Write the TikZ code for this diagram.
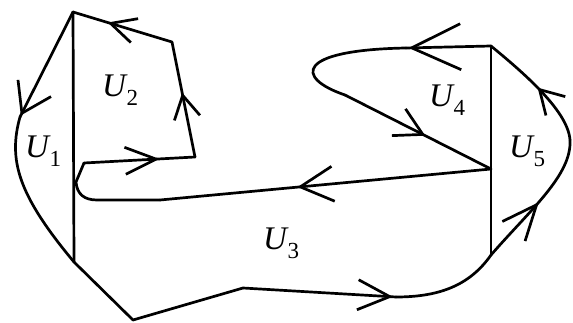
\documentclass[tikz,border=0pt]{standalone}
\usepackage{fontspec}
\setmainfont{Liberation Serif}
\usetikzlibrary{decorations.markings,arrows.meta}
\tikzset{
  curve/.style={line width=2.7pt, line join=round, line cap=round},
  chev/.style args={#1/#2/#3}{postaction={decorate, decoration={markings,
      mark=at position #1 with {\arrow{Straight Barb[length=#2pt,width=#3pt]}}}}},
  lab/.style={anchor=base west, inner sep=0pt, font=\fontsize{33}{33}\selectfont\itshape}
}
\newcommand\ulab[1]{U\kern0.5pt\raisebox{-9pt}{\upshape\fontsize{23}{23}\selectfont #1}}
\begin{document}
\begin{tikzpicture}[x=1pt,y=-1pt]
\useasboundingbox (0,0) rectangle (573,323);
% vertices
\coordinate (A) at (73,12);
\coordinate (B) at (74,262);
\coordinate (Lp) at (20,117);
\coordinate (C) at (172,42);
\coordinate (D) at (195,157);
\coordinate (E) at (84,163);
\coordinate (F) at (76,182);
\coordinate (P) at (97,200);
\coordinate (Q) at (160,200);
\coordinate (G) at (491,46);
\coordinate (H) at (491,169);
\coordinate (I) at (491,255);
\coordinate (J) at (133,320);
\coordinate (K) at (243,288);
\coordinate (M) at (396,297);
\coordinate (N) at (406,48);
\coordinate (R) at (345,95);
\coordinate (S) at (570,140);
% U1
\draw[curve] (A) -- (B);
\draw[curve, chev=0.985/28/37] (A) -- (Lp);
\draw[curve] (Lp) .. controls (8,160) and (18,195) .. (B);
% U2
\draw[curve, chev=0.68/31/27] (E) -- (D);
\draw[curve, chev=0.56/23/26] (D) -- (C);
\draw[curve, chev=0.65/25/25] (C) -- (A);
\draw[curve] (E) -- (F) .. controls (77,194) and (84,200) .. (P) -- (Q);
% U3
\draw[curve, chev=0.585/33/35] (H) -- (Q);
\draw[curve] (B) -- (J) -- (K);
\draw[curve, chev=0.98/32/30] (K) -- (M);
\draw[curve] (M) .. controls (440,297) and (470,285) .. (I);
% U4
\draw[curve] (G) -- (I);
\draw[curve, chev=0.97/49/46] (G) -- (N);
\draw[curve] (N) .. controls (295,50) and (295,78) .. (R);
\draw[curve, chev=0.55/27/30] (R) -- (H);
% U5
\draw[curve, chev=0.5/35/30] (I) .. controls (530,210) and (572,175) .. (S);
\draw[curve, chev=0.5/23/27] (S) .. controls (568,110) and (520,70) .. (G);
% labels
\node[lab] (u1) at (25,158) {\ulab{1}};
\node[lab] (u2) at (102,97) {\ulab{2}};
\node[lab] (u3) at (263,250) {\ulab{3}};
\node[lab] (u4) at (429,107) {\ulab{4}};
\node[lab] (u5) at (509,158) {\ulab{5}};
\end{tikzpicture}
\end{document}
